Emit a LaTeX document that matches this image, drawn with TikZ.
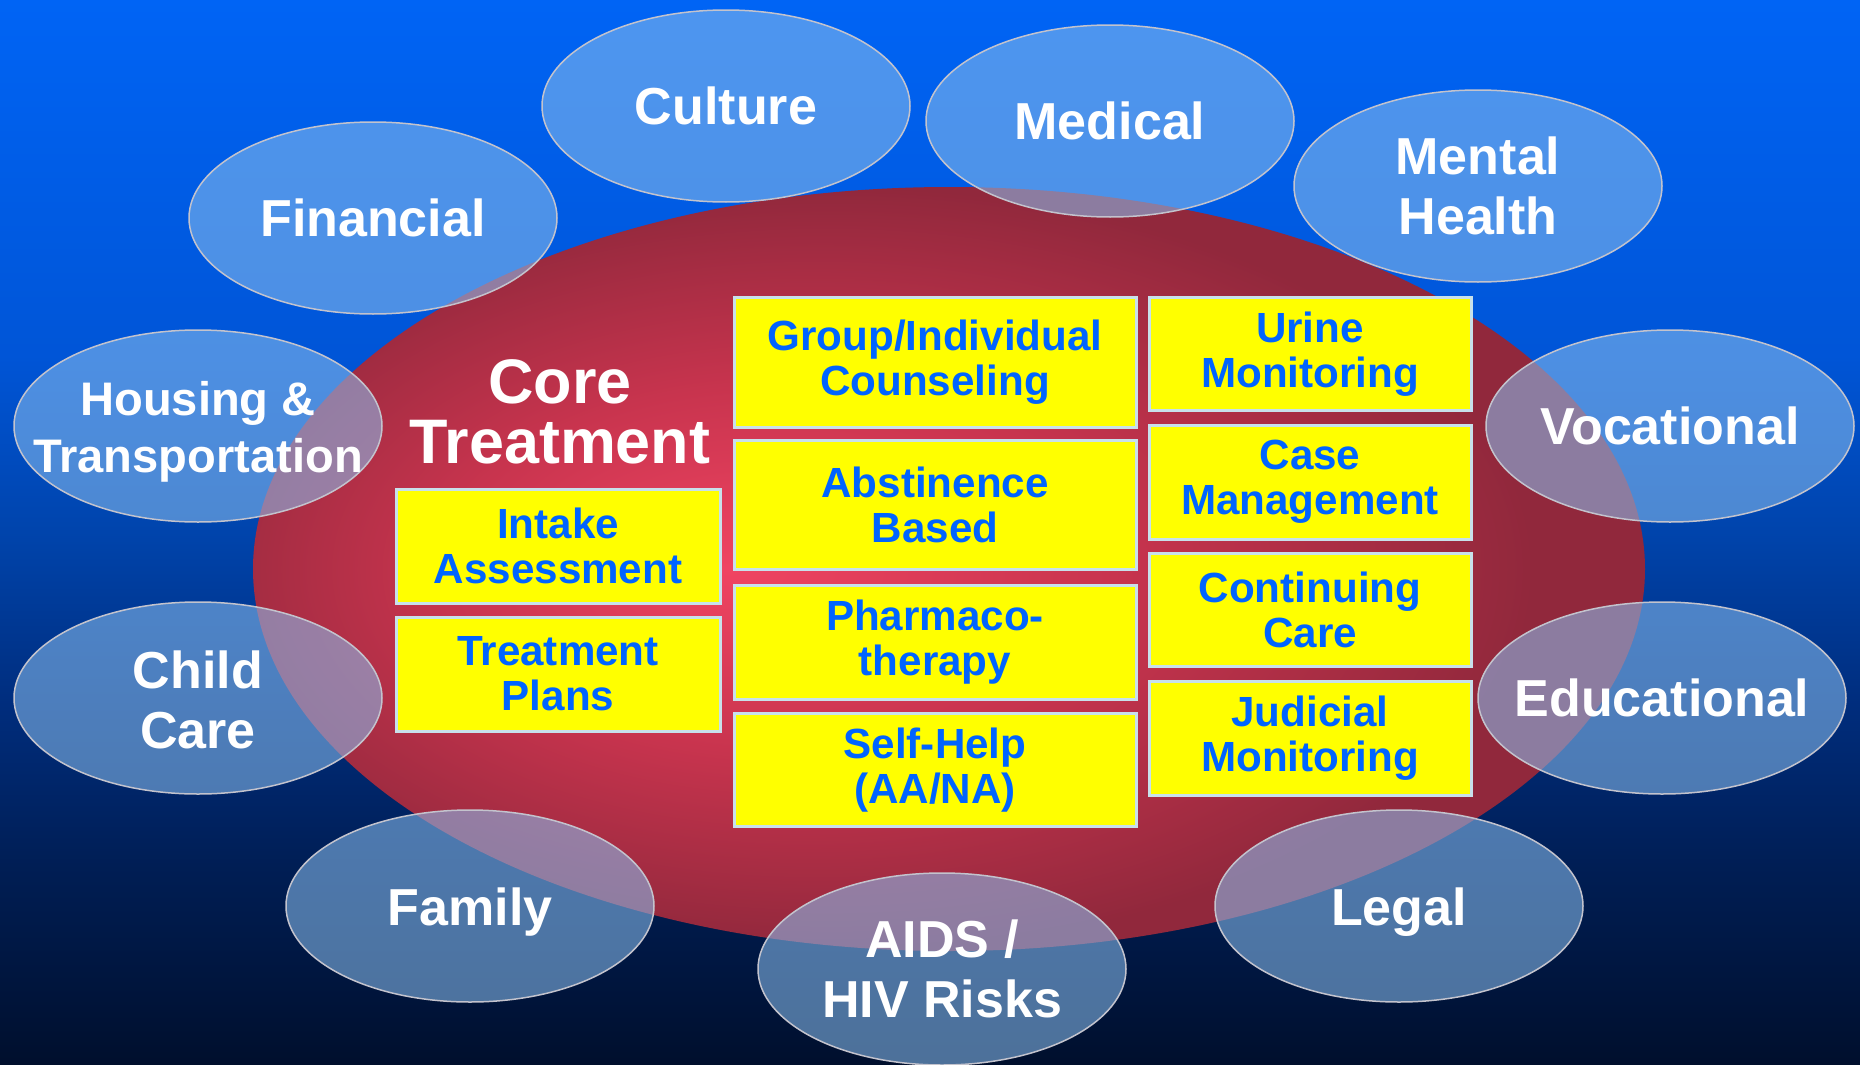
\documentclass[tikz,border=0pt]{standalone}
\usepackage{fontspec}
\setmainfont{Liberation Sans}

\definecolor{bgtop}{RGB}{0,100,245}
\definecolor{bgcA}{RGB}{0,85,215}
\definecolor{bgcB}{RGB}{0,68,172}
\definecolor{bgcC}{RGB}{0,45,125}
\definecolor{bgcD}{RGB}{0,30,85}
\definecolor{bgbot}{RGB}{0,15,45}
\definecolor{corehi}{RGB}{240,68,98}
\definecolor{coremid}{RGB}{200,52,78}
\definecolor{corelo}{RGB}{145,40,60}
\definecolor{bubblefill}{RGB}{137,188,237}
\definecolor{bubbleline}{RGB}{195,195,205}
\definecolor{taskline}{RGB}{200,225,235}
\definecolor{taskblue}{RGB}{0,100,255}
\definecolor{taskfill}{RGB}{255,255,0}

\pgfdeclareverticalshading{skyfade}{100bp}{color(0bp)=(bgbot); color(25bp)=(bgbot);
  color(34.4bp)=(bgcD); color(41.9bp)=(bgcC); color(50bp)=(bgcB); color(58.3bp)=(bgcA);
  color(75bp)=(bgtop); color(100bp)=(bgtop)}
\pgfdeclareradialshading{coreglow}{\pgfpoint{-8bp}{0bp}}{color(0bp)=(corehi);
  color(12bp)=(coremid); color(25bp)=(corelo); color(50bp)=(corelo)}

\begin{document}
\begin{tikzpicture}[x=0.1mm, y=-0.1mm,
  bubble/.style={draw=bubbleline, line width=0.15mm, fill=bubblefill, fill opacity=0.57},
  bubbletext/.style={text=white, font=\fontsize{14.8}{17}\selectfont\bfseries, align=center, inner sep=0pt},
  task/.style={draw=taskline, line width=0.3mm, fill=taskfill, text=taskblue, inner sep=0pt,
    font=\fontsize{12}{12.8}\selectfont\bfseries, align=center}]
\useasboundingbox (0,0) rectangle (1860,1064);
\shade[shading=skyfade] (0,0) rectangle (1860,1064);
\shade[shading=coreglow] (949,569) ellipse [x radius=69.6mm, y radius=38.2mm];
% core treatment
\node[text=white, font=\fontsize{17.9}{17.1}\selectfont\bfseries, align=center, inner sep=0pt] (core) at (560,412) {Core\\Treatment};
\node[task, minimum width=32.4mm, minimum height=11.4mm] (intake) at (558,546) {Intake\\Assessment};
\node[task, minimum width=32.4mm, minimum height=11.4mm] (plans) at (558,674) {Treatment\\Plans};
\node[task, minimum width=40.2mm, minimum height=13mm] (counsel) at (935,362) {Group/Individual\\Counseling};
\node[task, minimum width=40.2mm, minimum height=12.9mm] (abstain) at (935,505) {Abstinence\\Based};
\node[task, minimum width=40.2mm, minimum height=11.4mm] (pharma) at (935,642) {Pharmaco-\\therapy};
\node[task, minimum width=40.2mm, minimum height=11.3mm] (selfhelp) at (935,770) {Self-Help\\(AA/NA)};
\node[task, minimum width=32.2mm, minimum height=11.3mm] (urine) at (1310,354) {Urine\\Monitoring};
\node[task, minimum width=32.2mm, minimum height=11.4mm] (casemgmt) at (1310,482) {Case\\Management};
\node[task, minimum width=32.2mm, minimum height=11.3mm] (contcare) at (1310,610) {Continuing\\Care};
\node[task, minimum width=32.2mm, minimum height=11.4mm] (judicial) at (1310,738) {Judicial\\Monitoring};
% surrounding services
\draw[bubble] (726,106) ellipse [x radius=18.4mm, y radius=9.6mm];
\node[bubbletext] (culture) at (726,106) {Culture};
\draw[bubble] (1110,121) ellipse [x radius=18.4mm, y radius=9.6mm];
\node[bubbletext] (medical) at (1110,121) {Medical};
\draw[bubble] (1478,186) ellipse [x radius=18.4mm, y radius=9.6mm];
\node[bubbletext] (mental) at (1478,186) {Mental\\Health};
\draw[bubble] (373,218) ellipse [x radius=18.4mm, y radius=9.6mm];
\node[bubbletext] (financial) at (373,218) {Financial};
\draw[bubble] (198,426) ellipse [x radius=18.4mm, y radius=9.6mm];
\node[bubbletext, font=\fontsize{13.4}{16.2}\selectfont\bfseries] (housing) at (198,432) {Housing \&\\Transportation};
\draw[bubble] (1670,426) ellipse [x radius=18.4mm, y radius=9.6mm];
\node[bubbletext] (vocational) at (1670,426) {Vocational};
\draw[bubble] (198,698) ellipse [x radius=18.4mm, y radius=9.6mm];
\node[bubbletext] (childcare) at (198,700) {Child\\Care};
\draw[bubble] (1662,698) ellipse [x radius=18.4mm, y radius=9.6mm];
\node[bubbletext] (educational) at (1662,698) {Educational};
\draw[bubble] (470,906) ellipse [x radius=18.4mm, y radius=9.6mm];
\node[bubbletext] (family) at (470,912) {Family};
\draw[bubble] (1399,906) ellipse [x radius=18.4mm, y radius=9.6mm];
\node[bubbletext] (legal) at (1399,912) {Legal};
\draw[bubble] (942,969) ellipse [x radius=18.4mm, y radius=9.6mm];
\node[bubbletext] (aids) at (942,969) {AIDS /\\HIV Risks};
\end{tikzpicture}
\end{document}
